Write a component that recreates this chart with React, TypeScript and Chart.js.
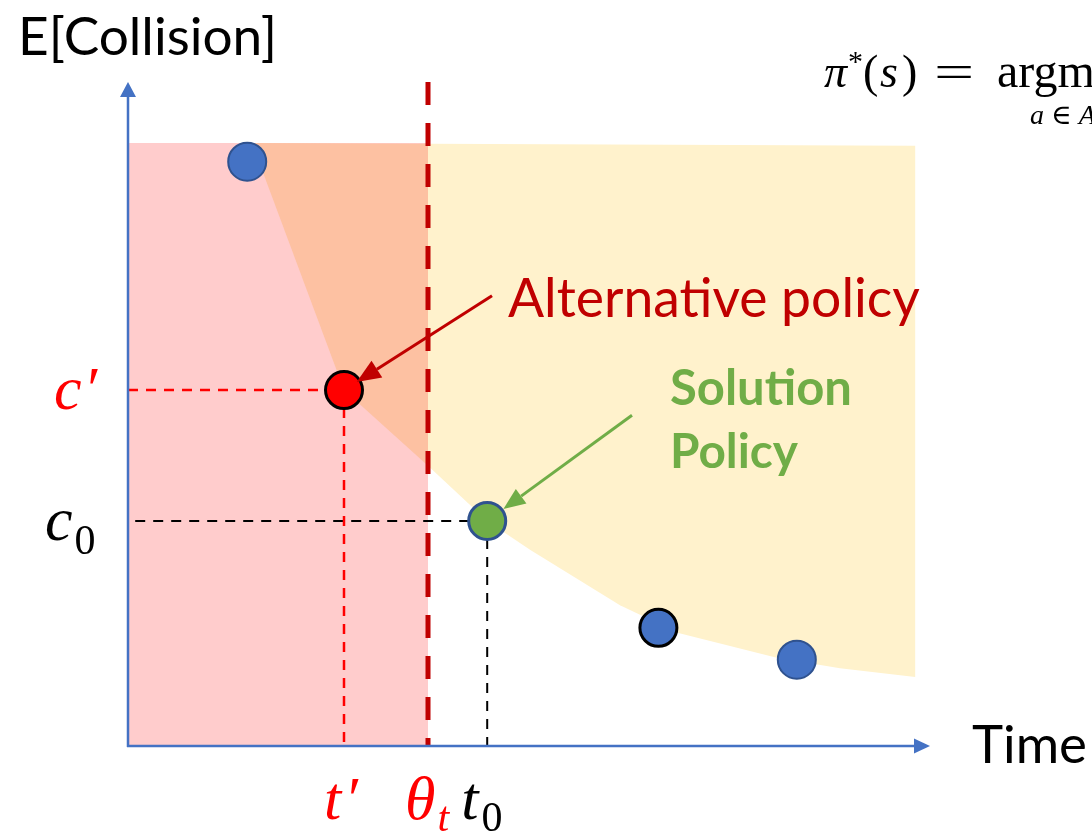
import React, { useEffect, useRef } from "react";
import { Chart, registerables } from "chart.js";

Chart.register(...registerables);

// ---------------- data (x = time, y = expected collision) ----------------
const X_MIN = 0;
const X_MAX = 10;
const Y_MIN = 0;
const Y_MAX = 10;

const thetaT = 3.75; // θ_t : time threshold
const regionTop = [9.08, 9.04]; // top edge of shaded feasible region (left end, right end)

// lower envelope (Pareto frontier) of the shaded region
const frontierTime = [1.55, 2.7, 3.75, 4.49, 5.03, 6.15, 6.88, 8.11, 8.9, 9.84];
const frontierCollision = [9.08, 5.36, 4.22, 3.39, 2.95, 2.12, 1.7, 1.33, 1.17, 1.04];

// candidate policies
const otherPolicyTime = [1.49, 6.63, 8.36];
const otherPolicyCollision = [8.8, 1.78, 1.3];
const altPolicyTime = [2.7]; // t'
const altPolicyCollision = [5.36]; // c'
const solutionTime = [4.49]; // t0
const solutionCollision = [3.39]; // c0

// annotation arrow origins
const altArrowStart = [4.55, 6.78];
const solArrowStart = [6.3, 4.98];

const yAxisTitle = "E[Collision]";
const xAxisTitle = "Time";
const altLabel = "Alternative policy";
const solLabel = ["Solution", "Policy"];

// ---------------- styles ----------------
const BLUE = "#4472C4";
const BLUE_EDGE = "#2F528F";
const RED = "#FF0000";
const DARK_RED = "#C00000";
const GREEN = "#70AD47";
const PINK = "#FFCCCC";
const ORANGE = "#FDC1A2";
const YELLOW = "#FFF2CC";
const SANS = "Lato, 'Open Sans', sans-serif";
const SERIF = "'Liberation Serif', 'DejaVu Serif', serif";

const pt = (x: number, y: number) => ({ x, y });
const zip = (xs: number[], ys: number[]) => xs.map((x, i) => ({ x, y: ys[i] }));

function buildDatasets() {
  const frontier = zip(frontierTime, frontierCollision);
  const first = frontier[0];
  const last = frontier[frontier.length - 1];
  const topAt = (t: number) =>
    regionTop[0] + ((regionTop[1] - regionTop[0]) * (t - first.x)) / (last.x - first.x);

  const pinkPoly = [pt(X_MIN, Y_MIN), pt(thetaT, Y_MIN), pt(thetaT, regionTop[0]), pt(X_MIN, regionTop[0])];
  const orangePoly = [...frontier.filter((p) => p.x <= thetaT), pt(thetaT, topAt(thetaT))];
  const yellowPoly = [
    ...frontier.filter((p) => p.x >= thetaT),
    pt(last.x, regionTop[1]),
    pt(thetaT, topAt(thetaT)),
  ];

  const poly = (data: any[], color: string, order: number) => ({
    type: "line",
    data,
    fill: "shape",
    backgroundColor: color,
    borderWidth: 0,
    pointRadius: 0,
    tension: 0,
    order,
    clip: false,
  });
  const dashed = (data: any[], color: string, width: number, dash: number[], order: number) => ({
    type: "line",
    data,
    borderColor: color,
    borderWidth: width,
    borderDash: dash,
    borderCapStyle: "butt",
    pointRadius: 0,
    fill: false,
    tension: 0,
    order,
    clip: false,
  });

  const tA = altPolicyTime[0];
  const cA = altPolicyCollision[0];
  const t0 = solutionTime[0];
  const c0 = solutionCollision[0];

  return [
    {
      type: "scatter",
      data: zip(otherPolicyTime, otherPolicyCollision),
      pointRadius: [19, 18.5, 19],
      pointBackgroundColor: BLUE,
      pointBorderColor: [BLUE_EDGE, "#000000", BLUE_EDGE],
      pointBorderWidth: [2, 3, 2],
      order: 0,
      clip: false,
    },
    {
      type: "scatter",
      data: zip(altPolicyTime, altPolicyCollision),
      pointRadius: 18.5,
      pointBackgroundColor: RED,
      pointBorderColor: "#000000",
      pointBorderWidth: 3,
      order: 0,
      clip: false,
    },
    {
      type: "scatter",
      data: zip(solutionTime, solutionCollision),
      pointRadius: 18.5,
      pointBackgroundColor: GREEN,
      pointBorderColor: BLUE_EDGE,
      pointBorderWidth: 3,
      order: 0,
      clip: false,
    },
    dashed([pt(X_MIN, cA), pt(tA, cA)], RED, 2.5, [10, 8], 2),
    dashed([pt(tA, cA), pt(tA, Y_MIN)], RED, 2.5, [10, 8], 2),
    dashed([pt(t0, c0), pt(X_MIN, c0)], "#000000", 2, [10, 8], 2),
    dashed([pt(t0, c0), pt(t0, Y_MIN)], "#000000", 2, [10, 8], 2),
    dashed([pt(thetaT, Y_MAX), pt(thetaT, Y_MIN)], DARK_RED, 5, [23, 18], 3),
    poly(orangePoly, ORANGE, 8),
    poly(yellowPoly, YELLOW, 8),
    poly(pinkPoly, PINK, 9),
  ];
}

type Run = { text: string; font: string; color: string; dy?: number; dx?: number; at?: number; sx?: number };

function drawRuns(ctx: CanvasRenderingContext2D, x: number, y: number, runs: Run[]) {
  let cx = x;
  for (const r of runs) {
    ctx.font = r.font;
    ctx.fillStyle = r.color;
    if (r.at !== undefined) cx = r.at;
    cx += r.dx || 0;
    const sx = r.sx || 1;
    ctx.save();
    ctx.translate(cx, y + (r.dy || 0));
    ctx.scale(sx, 1);
    ctx.fillText(r.text, 0, 0);
    ctx.restore();
    cx += ctx.measureText(r.text).width * sx;
  }
}

function fitFont(ctx: CanvasRenderingContext2D, text: string, weight: string, family: string, width: number) {
  ctx.font = `${weight} 100px ${family}`;
  const w = ctx.measureText(text).width;
  return `${weight} ${(100 * width) / w}px ${family}`;
}

function drawArrow(
  ctx: CanvasRenderingContext2D,
  x1: number,
  y1: number,
  x2: number,
  y2: number,
  color: string,
  width: number,
  headLen: number,
  headW: number
) {
  const ang = Math.atan2(y2 - y1, x2 - x1);
  const bx = x2 - headLen * Math.cos(ang);
  const by = y2 - headLen * Math.sin(ang);
  ctx.strokeStyle = color;
  ctx.lineWidth = width;
  ctx.beginPath();
  ctx.moveTo(x1, y1);
  ctx.lineTo(bx, by);
  ctx.stroke();
  ctx.fillStyle = color;
  ctx.beginPath();
  ctx.moveTo(x2, y2);
  ctx.lineTo(bx + (headW / 2) * Math.sin(ang), by - (headW / 2) * Math.cos(ang));
  ctx.lineTo(bx - (headW / 2) * Math.sin(ang), by + (headW / 2) * Math.cos(ang));
  ctx.closePath();
  ctx.fill();
}

const overlayPlugin = {
  id: "overlay",
  afterDatasetsDraw(chart: any) {
    const ctx: CanvasRenderingContext2D = chart.ctx;
    const xs = chart.scales.x;
    const ys = chart.scales.y;
    const px = (v: number) => xs.getPixelForValue(v);
    const py = (v: number) => ys.getPixelForValue(v);
    ctx.save();

    // ----- axes with arrow heads -----
    const ox = px(X_MIN);
    const oy = py(Y_MIN);
    const yTip = py(Y_MAX);
    const xTip = px(X_MAX) + 2;
    ctx.strokeStyle = BLUE;
    ctx.fillStyle = BLUE;
    ctx.lineWidth = 2.5;
    ctx.beginPath();
    ctx.moveTo(ox, oy + 1);
    ctx.lineTo(ox, yTip + 12);
    ctx.moveTo(ox - 1, oy);
    ctx.lineTo(xTip - 12, oy);
    ctx.stroke();
    ctx.beginPath();
    ctx.moveTo(ox, yTip);
    ctx.lineTo(ox - 8, yTip + 15);
    ctx.lineTo(ox + 8, yTip + 15);
    ctx.closePath();
    ctx.fill();
    ctx.beginPath();
    ctx.moveTo(xTip, oy);
    ctx.lineTo(xTip - 16, oy - 7.5);
    ctx.lineTo(xTip - 16, oy + 7.5);
    ctx.closePath();
    ctx.fill();

    // ----- annotation arrows -----
    const stopShort = (sx: number, sy: number, tx: number, ty: number, d: number) => {
      const L = Math.hypot(sx - tx, sy - ty);
      return [tx + ((sx - tx) * d) / L, ty + ((sy - ty) * d) / L];
    };
    {
      const sx = px(altArrowStart[0]);
      const sy = py(altArrowStart[1]);
      const [tx, ty] = stopShort(sx, sy, px(altPolicyTime[0]), py(altPolicyCollision[0]), 15);
      drawArrow(ctx, sx, sy, tx, ty, DARK_RED, 3, 24, 20);
    }
    {
      const sx = px(solArrowStart[0]);
      const sy = py(solArrowStart[1]);
      const [tx, ty] = stopShort(sx, sy, px(solutionTime[0]), py(solutionCollision[0]), 20);
      drawArrow(ctx, sx, sy, tx, ty, GREEN, 3, 22, 18);
    }

    // ----- text -----
    ctx.textBaseline = "alphabetic";
    ctx.textAlign = "left";
    ctx.fillStyle = "#000000";
    ctx.font = fitFont(ctx, yAxisTitle, "400", SANS, 259);
    ctx.fillText(yAxisTitle, 18, 55);
    ctx.font = fitFont(ctx, xAxisTitle, "400", SANS, 115);
    ctx.fillText(xAxisTitle, 972, 763);

    ctx.fillStyle = DARK_RED;
    ctx.font = fitFont(ctx, altLabel, "400", SANS, 412);
    ctx.fillText(altLabel, 508, 317);

    ctx.fillStyle = GREEN;
    ctx.font = fitFont(ctx, solLabel[0], "700", SANS, 182);
    ctx.fillText(solLabel[0], 670, 405);
    ctx.font = fitFont(ctx, solLabel[1], "700", SANS, 128);
    ctx.fillText(solLabel[1], 670, 468);

    const big = `italic 62px ${SERIF}`;
    const sub = `italic 42px ${SERIF}`;
    const subUp = `42px ${SERIF}`;
    // c' and c0 on the collision axis
    drawRuns(ctx, 54, py(altPolicyCollision[0]) + 19, [
      { text: "c", font: big, color: RED },
      { text: "′", font: big, color: RED, dx: 2 },
    ]);
    drawRuns(ctx, 45, py(solutionCollision[0]) + 19, [
      { text: "c", font: big, color: "#000" },
      { text: "0", font: subUp, color: "#000", dy: 14, dx: 2 },
    ]);
    // t', θt, t0 on the time axis
    const base = oy + 73;
    drawRuns(ctx, px(altPolicyTime[0]) - 20, base, [
      { text: "t", font: big, color: RED },
      { text: "′", font: big, color: RED, dx: 3 },
    ]);
    drawRuns(ctx, px(thetaT) - 23, base, [
      { text: "θ", font: big, color: RED },
      { text: "t", font: sub, color: RED, dy: 12, dx: 2 },
    ]);
    drawRuns(ctx, px(solutionTime[0]) - 26, base, [
      { text: "t", font: big, color: "#000" },
      { text: "0", font: subUp, color: "#000", dy: 12, dx: 3 },
    ]);

    // formula (partially outside the frame)
    const f = `46px ${SERIF}`;
    const fi = `italic 46px ${SERIF}`;
    drawRuns(ctx, 823, 87, [
      { text: "π", font: fi, color: "#000", at: 824 },
      { text: "*", font: `30px ${SERIF}`, color: "#000", dy: -16, at: 848 },
      { text: "(", font: f, color: "#000", at: 863 },
      { text: "s", font: fi, color: "#000", at: 880 },
      { text: ")", font: f, color: "#000", at: 902 },
      { text: "=", font: f, color: "#000", at: 934, sx: 1.55 },
      { text: "argmax", font: `48px ${SERIF}`, color: "#000", at: 997 },
    ]);
    drawRuns(ctx, 1030, 124, [
      { text: "a ∈ A", font: `italic 28px ${SERIF}`, color: "#000" },
    ]);

    ctx.restore();
  },
};

export default function App() {
  const ref = useRef<HTMLCanvasElement | null>(null);
  useEffect(() => {
    if (!ref.current) return;
    const chart = new Chart(ref.current, {
      type: "scatter",
      data: { datasets: buildDatasets() as any },
      options: {
        responsive: false,
        animation: false,
        events: [],
        layout: { padding: { left: 128, right: 164, top: 82, bottom: 88 } },
        scales: {
          x: { type: "linear", min: X_MIN, max: X_MAX, display: false },
          y: { type: "linear", min: Y_MIN, max: Y_MAX, display: false },
        },
        plugins: {
          legend: { display: false },
          tooltip: { enabled: false },
          title: { display: false },
        },
      },
      plugins: [overlayPlugin],
    });
    return () => chart.destroy();
  }, []);
  return (
    <div style={{ position: "fixed", left: 0, top: 0, width: 1092, height: 834, background: "#ffffff" }}>
      <canvas ref={ref} width={1092} height={834} />
    </div>
  );
}
